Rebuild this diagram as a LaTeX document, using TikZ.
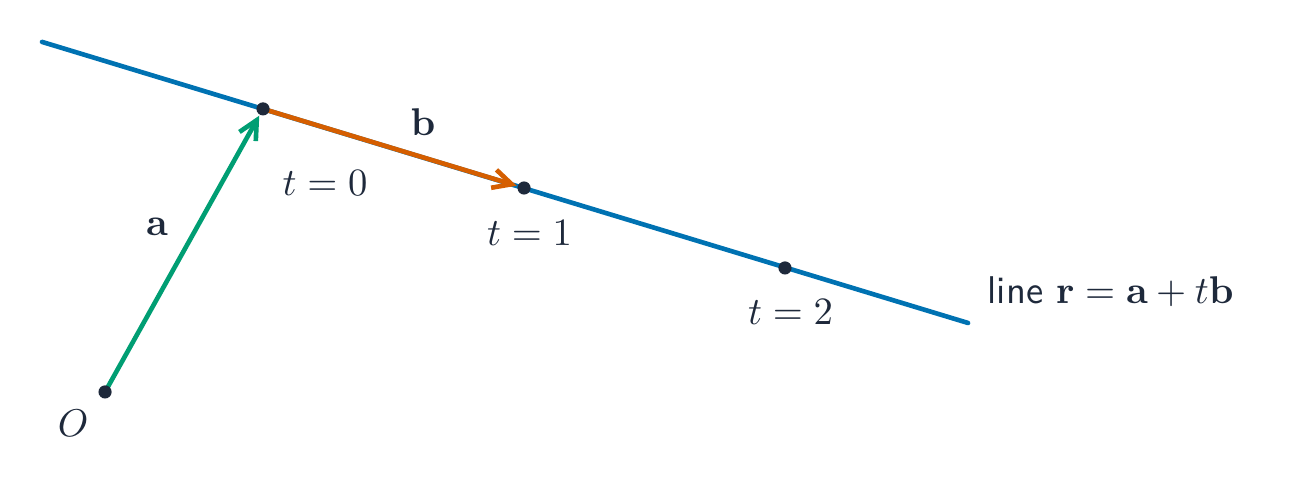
\documentclass[tikz,border=0pt]{standalone}
\usetikzlibrary{arrows.meta,positioning}
\definecolor{lineblue}{HTML}{0072B2}
\definecolor{vecorange}{HTML}{D55E00}
\definecolor{vecgreen}{HTML}{009E73}
\definecolor{ink}{HTML}{1E293B}
\begin{document}
\begin{tikzpicture}[line width=1.2pt, >={Straight Barb[length=1.7mm,width=1.7mm]}, every node/.style={text=ink}]
	\useasboundingbox (0,0) rectangle (11.736,4.445);

	% origin, base point and the points t=1, t=2
	\coordinate (O) at (0.955,0.882);
	\coordinate (A) at (2.391,3.455);
	\coordinate (B1) at (4.764,2.736);
	\coordinate (B2) at (7.136,2.009);
	\coordinate (L1) at (0.382,4.064);
	\coordinate (L2) at (8.800,1.509);

	\draw[lineblue, line cap=round] (L1) -- (L2);
	\draw[->, vecorange, shorten >=2pt] (A) -- (B1);
	\draw[->, vecgreen, shorten >=2pt] (O) -- (A);
	\foreach \p in {O,A,B1,B2} \fill[ink] (\p) circle [radius=1.7pt];

	\node (lO) at (0.664,0.600) {$O$};
	\node (la) at (1.427,2.382) {$\mathbf{a}$};
	\node (lb) at (3.845,3.336) {$\mathbf{b}$};
	\node (lt0) at (2.955,2.782) {$t=0$};
	\node (lt1) [below=1.6mm of B1, xshift=0.5mm] {$t=1$};
	\node (lt2) [below=1.5mm of B2, xshift=0.5mm] {$t=2$};
	\node (lline) [anchor=west] at (8.84,1.79) {\textsf{line} $\mathbf{r}=\mathbf{a}+t\mathbf{b}$};

\end{tikzpicture}
\end{document}
